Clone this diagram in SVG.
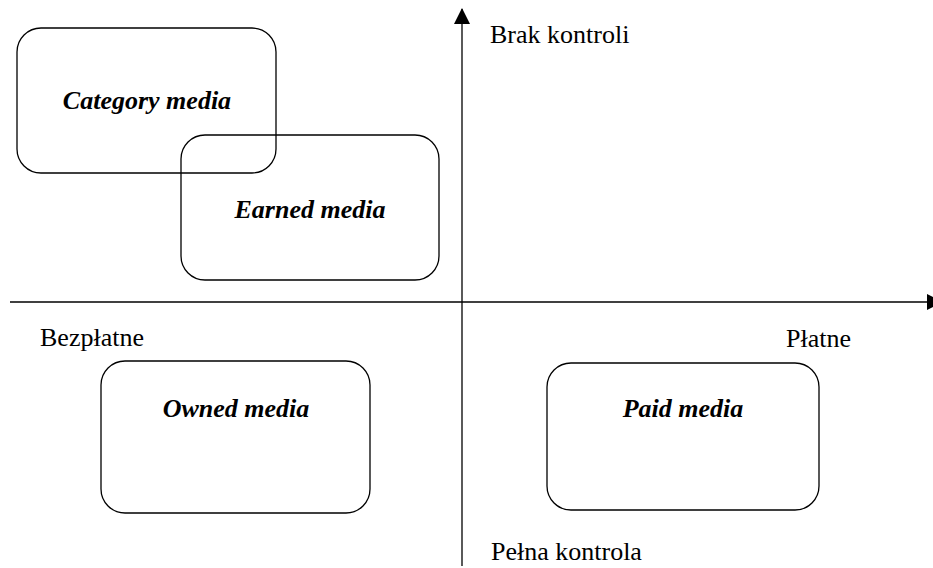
<svg xmlns="http://www.w3.org/2000/svg" width="933" height="568" viewBox="0 0 933 568">
<style>
.box{fill:none;stroke:#000;stroke-width:1.3}
.lbl{font-family:"Liberation Serif",serif;font-size:26px;font-weight:bold;font-style:italic;text-anchor:middle}
.ax{font-family:"Liberation Serif",serif;font-size:26px}
.axis{stroke:#000;stroke-width:1.3;fill:none}
</style>
<defs>
<marker id="ah" markerWidth="10" markerHeight="10" refX="9" refY="5" orient="auto" markerUnits="userSpaceOnUse" viewBox="0 0 10 10">
<path d="M0,0 L10,5 L0,10 z" fill="#000"/>
</marker>
<marker id="ah2" markerWidth="16" markerHeight="16" refX="15" refY="8" orient="auto" markerUnits="userSpaceOnUse" viewBox="0 0 16 16">
<path d="M0,0 L16,8 L0,16 z" fill="#000"/>
</marker>
</defs>
<rect width="933" height="568" fill="#fff"/>
<g id="connectors">
<line class="axis" x1="462" y1="566" x2="462" y2="9" marker-end="url(#ah2)"/>
<line class="axis" x1="10" y1="302" x2="942" y2="302" marker-end="url(#ah2)"/>
</g>
<g id="category"><rect class="box" x="17" y="28" width="259" height="145" rx="24"/><text class="lbl" x="147" y="109">Category media</text></g>
<g id="earned"><rect class="box" x="181" y="135" width="258" height="145" rx="24"/><text class="lbl" x="310" y="218">Earned media</text></g>
<g id="owned"><rect class="box" x="101" y="361" width="269" height="152" rx="24"/><text class="lbl" x="236" y="417">Owned media</text></g>
<g id="paid"><rect class="box" x="547" y="363" width="272" height="147" rx="24"/><text class="lbl" x="683" y="417">Paid media</text></g>
<g id="labels">
<text class="ax" x="490" y="43">Brak kontroli</text>
<text class="ax" x="40" y="346">Bezpłatne</text>
<text class="ax" x="786" y="347">Płatne</text>
<text class="ax" x="491" y="560">Pełna kontrola</text>
</g>
</svg>
